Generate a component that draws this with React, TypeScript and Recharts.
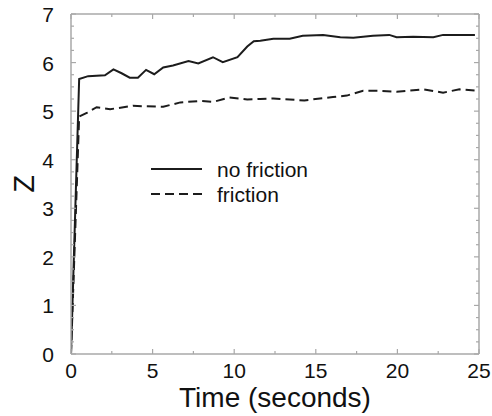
import React from 'react';
import { LineChart, Line, XAxis, YAxis, Legend, ReferenceLine } from 'recharts';

const timeNoFriction = [0, 0.5, 1.05, 2.08, 2.6, 3.1, 3.6, 4.1, 4.6, 5.1, 5.65, 6.25, 7.2, 7.8, 8.7, 9.3, 10.2, 10.8, 11.2, 11.6, 12.4, 13.4, 14.2, 15.45, 16.5, 17.3, 18.5, 19.5, 19.95, 20.97, 22.2, 22.8, 24.75];
const zNoFriction = [0, 5.66, 5.72, 5.74, 5.86, 5.78, 5.69, 5.69, 5.85, 5.76, 5.9, 5.94, 6.03, 5.98, 6.11, 6.01, 6.11, 6.33, 6.44, 6.45, 6.49, 6.49, 6.55, 6.57, 6.52, 6.51, 6.55, 6.57, 6.52, 6.53, 6.52, 6.57, 6.57];

const timeFriction = [0, 0.5, 1.0, 1.57, 2.4, 3.8, 4.6, 5.65, 6.7, 7.9, 8.7, 9.7, 10.35, 10.8, 11.6, 12.4, 13.4, 14.3, 15.26, 16.05, 16.9, 17.9, 18.9, 19.95, 21.6, 22.8, 23.8, 24.9];
const zFriction = [0, 4.89, 4.97, 5.08, 5.04, 5.11, 5.1, 5.09, 5.18, 5.21, 5.19, 5.28, 5.26, 5.24, 5.25, 5.26, 5.24, 5.22, 5.26, 5.29, 5.32, 5.42, 5.42, 5.4, 5.45, 5.38, 5.45, 5.42];

const xMajorTicks = [0, 5, 10, 15, 20, 25];
const xAllTicks = [0, 2.5, 5, 7.5, 10, 12.5, 15, 17.5, 20, 22.5, 25];
const yMajorTicks = [0, 1, 2, 3, 4, 5, 6, 7];
const yAllTicks = Array.from({ length: 29 }, (_, i) => i * 0.25);
const xDomain = [0, 25];
const yDomain = [0, 7];

const seriesNames = ['no friction', 'friction'];

const dataNoFriction = timeNoFriction.map((t, i) => ({ t, z: zNoFriction[i] }));
const dataFriction = timeFriction.map((t, i) => ({ t, z: zFriction[i] }));

const FONT = '"Liberation Sans", Arial, Helvetica, sans-serif';
const AXIS = '#a8a8a8';
const INK = '#1c1c1c';

const CHART_W = 492;
const CHART_H = 416;
const MARGIN = { top: 14, right: 13, bottom: 0, left: 0 };
const PLOT_TOP = MARGIN.top;
const PLOT_RIGHT = CHART_W - MARGIN.right;

const isMajor = (v: number, list: number[]) => list.some((m) => Math.abs(m - v) < 1e-6);

const BottomTick = (props: any) => {
  const { x, y, payload } = props;
  const major = isMajor(payload.value, xMajorTicks);
  const len = major ? 5 : 3;
  return (
    <g>
      <line x1={x} x2={x} y1={y} y2={y - len} stroke={AXIS} strokeWidth={1.2} />
      <line x1={x} x2={x} y1={PLOT_TOP} y2={PLOT_TOP + len} stroke={AXIS} strokeWidth={1.2} />
      {major && (
        <text x={x} y={y + 24} textAnchor="middle" fontFamily={FONT} fontSize={21} fill="#111">
          {payload.value}
        </text>
      )}
    </g>
  );
};

const LeftTick = (props: any) => {
  const { x, y, payload } = props;
  const major = isMajor(payload.value, yMajorTicks);
  const len = major ? 5 : 3;
  return (
    <g>
      <line x1={x} x2={x + len} y1={y} y2={y} stroke={AXIS} strokeWidth={1.2} />
      <line x1={PLOT_RIGHT} x2={PLOT_RIGHT - len} y1={y} y2={y} stroke={AXIS} strokeWidth={1.2} />
      {major && (
        <text x={x - 17} y={y} dy="0.38em" textAnchor="end" fontFamily={FONT} fontSize={21} fill="#111">
          {payload.value}
        </text>
      )}
    </g>
  );
};

const LegendContent = () => (
  <svg width={210} height={52} style={{ display: 'block', overflow: 'visible' }}>
    <line x1={0} x2={51} y1={9} y2={9} stroke={INK} strokeWidth={2} />
    <text x={66} y={17} fontFamily={FONT} fontSize={21} fill="#111">{seriesNames[0]}</text>
    <line x1={0} x2={51} y1={34} y2={34} stroke={INK} strokeWidth={2} strokeDasharray="9 5" />
    <text x={66} y={42} fontFamily={FONT} fontSize={21} fill="#111">{seriesNames[1]}</text>
  </svg>
);

export default function App() {
  return (
    <div style={{ position: 'absolute', left: 0, top: 0, width: CHART_W, height: CHART_H }}>
      <LineChart width={CHART_W} height={CHART_H} margin={MARGIN}>
        <XAxis
          xAxisId="b"
          dataKey="t"
          type="number"
          orientation="bottom"
          domain={xDomain}
          ticks={xAllTicks}
          interval={0}
          allowDataOverflow
          height={62}
          tickSize={0}
          tickMargin={0}
          tickLine={false}
          tick={<BottomTick />}
          axisLine={{ stroke: AXIS, strokeWidth: 1.5 }}
          label={{ value: 'Time (seconds)', position: 'insideBottom', offset: 9, style: { fontFamily: FONT, fontSize: 28, fill: '#111' } }}
        />
        <YAxis
          yAxisId="l"
          type="number"
          domain={yDomain}
          ticks={yAllTicks}
          interval={0}
          allowDataOverflow
          width={71}
          tickSize={0}
          tickMargin={0}
          tickLine={false}
          tick={<LeftTick />}
          axisLine={{ stroke: AXIS, strokeWidth: 1.5 }}
          label={{ value: 'Z', angle: -90, position: 'center', dx: -11.5, style: { fontFamily: FONT, fontSize: 29, fill: '#111' } }}
        />
        <ReferenceLine xAxisId="b" yAxisId="l" y={yDomain[1]} stroke={AXIS} strokeWidth={1.5} />
        <ReferenceLine xAxisId="b" yAxisId="l" x={xDomain[1]} stroke={AXIS} strokeWidth={1.5} />
        <Legend
          verticalAlign="middle"
          align="center"
          layout="horizontal"
          content={<LegendContent />}
          wrapperStyle={{ position: 'absolute', left: 151, top: 160, width: 210, height: 52 }}
        />
        <Line
          xAxisId="b"
          yAxisId="l"
          data={dataNoFriction}
          dataKey="z"
          name={seriesNames[0]}
          type="linear"
          stroke={INK}
          strokeWidth={2}
          dot={false}
          isAnimationActive={false}
        />
        <Line
          xAxisId="b"
          yAxisId="l"
          data={dataFriction}
          dataKey="z"
          name={seriesNames[1]}
          type="linear"
          stroke={INK}
          strokeWidth={2}
          strokeDasharray="9 5"
          dot={false}
          isAnimationActive={false}
        />
      </LineChart>
    </div>
  );
}
